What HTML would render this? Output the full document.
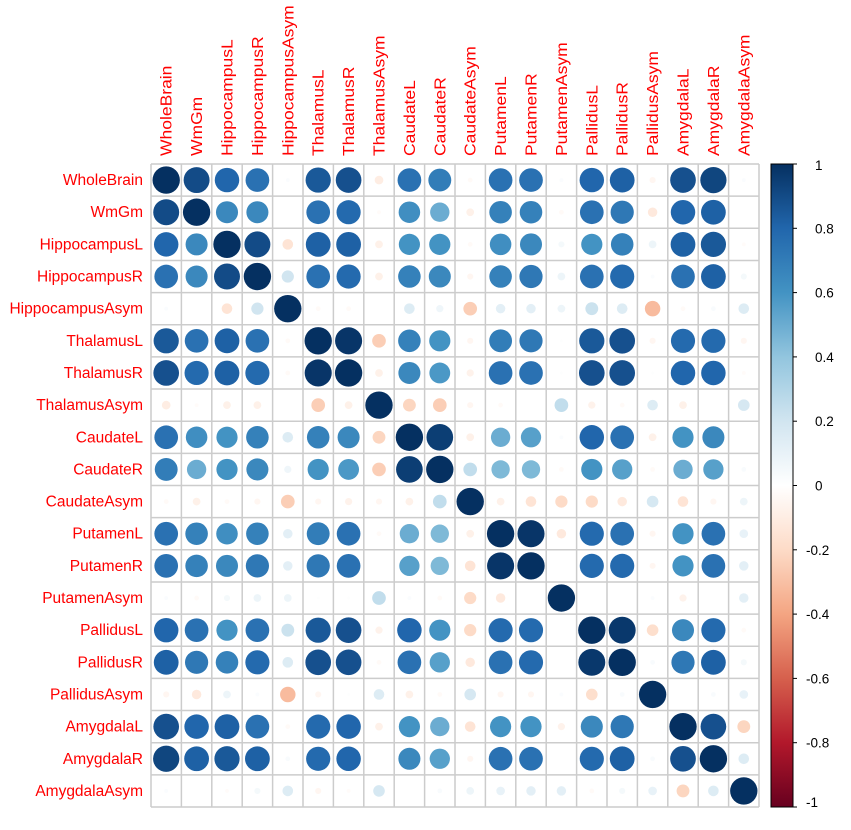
<!DOCTYPE html>
<html><head><meta charset="utf-8"><style>
body{margin:0;background:#fff;}
svg text{font-family:"Liberation Sans",sans-serif;}
</style></head><body>
<svg id="chart" width="851" height="825" xmlns="http://www.w3.org/2000/svg"></svg>
<script>
const labels=["WholeBrain","WmGm","HippocampusL","HippocampusR","HippocampusAsym","ThalamusL","ThalamusR","ThalamusAsym","CaudateL","CaudateR","CaudateAsym","PutamenL","PutamenR","PutamenAsym","PallidusL","PallidusR","PallidusAsym","AmygdalaL","AmygdalaR","AmygdalaAsym"];
const corr=[
[1,.9,.8,.75,.02,.85,.88,-.1,.75,.7,-.03,.75,.75,.02,.8,.82,-.05,.88,.92,.02],
[.9,1,.65,.65,0,.75,.78,-.02,.62,.5,-.08,.68,.68,-.03,.75,.72,-.12,.8,.82,0],
[.8,.65,1,.9,-.15,.82,.82,-.08,.6,.6,-.03,.62,.65,.05,.6,.68,.08,.82,.85,-.02],
[.75,.65,.9,1,.2,.75,.78,-.08,.68,.65,-.05,.68,.72,.08,.75,.78,.02,.75,.82,.05],
[.02,0,-.15,.2,1,-.03,-.03,0,.15,.07,-.25,.12,.12,.08,.22,.15,-.32,-.03,.03,.15],
[.85,.75,.82,.75,-.03,1,.98,-.25,.68,.6,-.05,.7,.72,.01,.85,.88,-.05,.78,.78,-.05],
[.88,.78,.82,.78,-.03,.98,1,-.08,.65,.58,-.07,.75,.75,.01,.88,.88,.01,.8,.8,-.02],
[-.1,-.02,-.08,-.08,0,-.25,-.08,1,-.22,-.25,-.05,-.03,0,.25,-.07,-.03,.15,-.08,0,.18],
[.75,.62,.6,.68,.15,.68,.65,-.22,1,.95,-.08,.5,.55,.02,.8,.75,-.08,.6,.65,0],
[.7,.5,.6,.65,.07,.6,.58,-.25,.95,1,.25,.45,.45,-.03,.6,.55,-.03,.5,.55,.03],
[-.03,-.08,-.03,-.05,-.25,-.05,-.07,-.05,-.08,.25,1,-.08,-.15,-.2,-.2,-.12,.18,-.15,-.05,.08],
[.75,.68,.62,.68,.12,.7,.75,-.03,.5,.45,-.08,1,.98,-.12,.78,.75,-.05,.6,.75,.1],
[.75,.68,.65,.72,.12,.72,.75,0,.55,.45,-.15,.98,1,0,.78,.78,-.05,.6,.75,.12],
[.02,-.03,.05,.08,.08,.01,.01,.25,.02,-.03,-.2,-.12,0,1,0,0,.02,-.07,0,.12],
[.8,.75,.6,.75,.22,.85,.88,-.07,.8,.6,-.2,.78,.78,0,1,.97,-.18,.65,.78,-.03],
[.82,.72,.68,.78,.15,.88,.88,-.03,.75,.55,-.12,.75,.78,0,.97,1,.03,.72,.82,.05],
[-.05,-.12,.08,.02,-.32,-.05,.01,.15,-.08,-.03,.18,-.05,-.05,.02,-.18,.03,1,0,.03,.1],
[.88,.8,.82,.75,-.03,.78,.8,-.08,.6,.5,-.15,.6,.6,-.07,.65,.72,0,1,.88,-.22],
[.92,.82,.85,.82,.03,.78,.8,0,.65,.55,-.05,.75,.75,0,.78,.82,.03,.88,1,.15],
[.02,0,-.02,.05,.15,-.05,-.02,.18,0,.03,.08,.1,.12,.12,-.03,.05,.1,-.22,.15,1]];
const ticks=["1","0.8","0.6","0.4","0.2","0","-0.2","-0.4","-0.6","-0.8","-1"];
const tickVals=[1,.8,.6,.4,.2,0,-.2,-.4,-.6,-.8,-1];

const NS="http://www.w3.org/2000/svg";
const svg=document.getElementById('chart');
const X0=151,Y0=164,X1=759,Y1=807,n=labels.length;
const cw=(X1-X0)/n,ch=(Y1-Y0)/n;
const pal=["#67001F","#B2182B","#D6604D","#F4A582","#FDDBC7","#FFFFFF","#D1E5F0","#92C5DE","#4393C3","#2166AC","#053061"];
function hex(c){return [1,3,5].map(i=>parseInt(c.substr(i,2),16));}
function col(v){let t=(v+1)/2*(pal.length-1);let i=Math.min(Math.floor(t),pal.length-2);let f=t-i;
 const a=hex(pal[i]),b=hex(pal[i+1]);return "rgb("+a.map((x,k)=>Math.round(x+(b[k]-x)*f)).join(",")+")";}
function xs(j){return X0+cw*(j+.5);} function ys(i){return Y0+ch*(i+.5);}
function mk(tag,at,txt){const e=document.createElementNS(NS,tag);for(const k in at)e.setAttribute(k,at[k]);if(txt!==undefined)e.textContent=txt;svg.appendChild(e);return e;}
for(let k=0;k<=n;k++){
 let l=mk('line',{x1:X0+cw*k,x2:X0+cw*k,y1:Y0,y2:Y1,stroke:'#cccccc','stroke-width':1.5});
 
 
 let h=mk('line',{x1:X0,x2:X1,y1:Y0+ch*k,y2:Y0+ch*k,stroke:'#cccccc','stroke-width':1.5});
 
 
}
const R=Math.min(cw,ch)*0.45;
for(let i=0;i<n;i++)for(let j=0;j<n;j++){
 const v=corr[i][j];
 const c=mk('circle',{cx:xs(j),cy:ys(i),r:R*Math.sqrt(Math.abs(v)),fill:col(v)});
 
 
}
labels.forEach((s,i)=>{
 const t=mk('text',{x:143,y:ys(i)+5,'text-anchor':'end',fill:'#ff0000','font-size':15.5},s);
 
 
 const u=mk('text',{x:0,y:0,transform:'translate('+(xs(i)+5.5)+',156) rotate(-90) scale(1.13,1)',fill:'#ff0000','font-size':15.5},s);
 
 
});
const CB0=771,CB1=793;
const defs=mk('defs',{});
const g=document.createElementNS(NS,'linearGradient');g.setAttribute('id','cg');g.setAttribute('x1','0');g.setAttribute('y1','0');g.setAttribute('x2','0');g.setAttribute('y2','1');
pal.slice().reverse().forEach((c,k)=>{const s=document.createElementNS(NS,'stop');s.setAttribute('offset',k/(pal.length-1));s.setAttribute('stop-color',c);g.appendChild(s);});
defs.appendChild(g);
const cb=mk('rect',{x:CB0,y:Y0,width:CB1-CB0,height:Y1-Y0,fill:'url(#cg)',stroke:'#000','stroke-width':1});


function cy(v){return Y0+(1-v)/2*(Y1-Y0);}
ticks.forEach((s,k)=>{
 const y=cy(tickVals[k]);
 const l=mk('line',{x1:CB1,x2:CB1+4,y1:y,y2:y,stroke:'#000'});
 
 
 const t=mk('text',{x:(tickVals[k]<0?806:815),y:y+(k==0?6:k==10?0:5),fill:'#000','font-size':13.5},s);
 
 
});
</script>
</body></html>
